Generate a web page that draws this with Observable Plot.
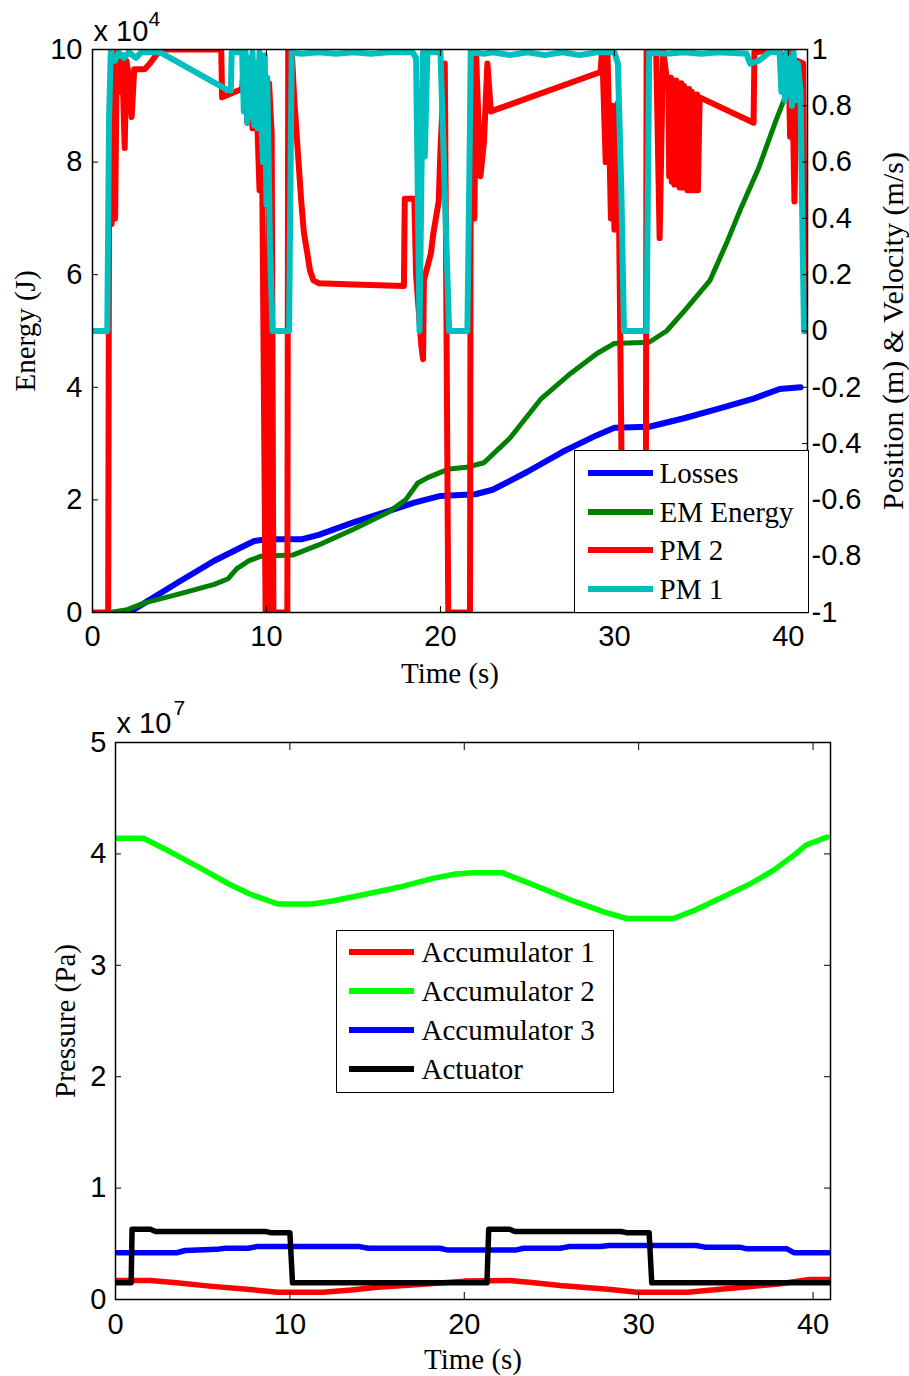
<!DOCTYPE html>
<html>
<head>
<meta charset="utf-8">
<script src="https://cdn.jsdelivr.net/npm/d3@7"></script>
<script src="https://cdn.jsdelivr.net/npm/@observablehq/plot@0.6"></script>
<style>
  html, body { margin: 0; padding: 0; background: #fff; }
  #wrap { position: relative; width: 909px; height: 1376px; background: #fff; overflow: hidden; }
  #wrap svg { position: absolute; left: 0; }
</style>
</head>
<body>
<div id="wrap"></div>
<script>
// ================= TOP CHART DATA =================
const timeTicks = [0, 10, 20, 30, 40];
const energyTicks = [0, 2, 4, 6, 8, 10];            // x 10^4 J
const positionTicks = [-1, -0.8, -0.6, -0.4, -0.2, 0, 0.2, 0.4, 0.6, 0.8, 1];
const topLegendLabels = ["Losses", "EM Energy", "PM 2", "PM 1"];
const topLegendColors = ["#0000ff", "#008000", "#ff0000", "#00bfbf"];

// [time (s), energy (x10^4 J)]
const losses = [[1.5,0],[2.2,0.02],[3,0.17],[5,0.55],[7,0.92],[8.5,1.15],[9.3,1.27],[10,1.3],[12,1.3],[13,1.38],[15,1.6],[17,1.8],[18.5,1.95],[20,2.07],[22,2.1],[23,2.18],[25,2.5],[27,2.85],[29,3.15],[30,3.28],[32,3.3],[34,3.45],[36,3.62],[38,3.8],[39.5,3.97],[40.7,4.0]];
const emEnergy = [[1,0],[2,0.05],[3,0.17],[5,0.33],[7,0.5],[7.8,0.6],[8.3,0.78],[9,0.92],[9.7,1.0],[11.5,1.02],[13,1.2],[15,1.48],[17,1.78],[18,2.0],[18.7,2.3],[19.3,2.4],[20.5,2.55],[21.5,2.58],[22.5,2.66],[24,3.1],[25.8,3.8],[27.5,4.25],[29,4.6],[30,4.78],[32,4.8],[33,5.0],[34,5.35],[35.5,5.9],[36.5,6.6],[37.3,7.2],[38.3,7.9],[39.3,8.75],[40,9.3],[40.5,9.6]];

// [time (s), position/velocity (right axis)]
const pm2 = [[0,-1],[0.9,-1],[0.95,0.4],[1.05,0.62],[1.1,0.38],[1.2,0.95],[1.3,0.4],[1.4,1],[1.55,0.85],[1.7,0.98],[1.85,0.65],[1.95,0.96],[2.1,0.9],[2.25,0.76],[2.4,0.93],[3.0,0.93],[3.3,0.95],[3.9,1],[7.4,1],[7.45,0.83],[8.2,0.85],[8.6,0.86],[8.75,1],[8.9,0.74],[9.05,0.92],[9.2,0.72],[9.4,0.88],[9.6,0.5],[9.75,0.6],[9.95,-1],[10.1,-1],[10.15,0.88],[10.3,0.7],[10.4,-1],[11.2,-1],[11.25,1],[11.45,1],[11.6,0.82],[11.8,0.64],[12.0,0.46],[12.15,0.35],[12.35,0.275],[12.5,0.215],[12.7,0.18],[13,0.17],[15,0.165],[17.9,0.16],[17.95,0.47],[18.5,0.47],[18.6,0.2],[18.9,-0.05],[19.0,-0.1],[19.05,0.18],[19.45,0.275],[19.6,0.35],[19.9,0.46],[20.0,0.64],[20.2,0.9],[20.25,0.95],[20.3,0.5],[20.45,-1],[21.7,-1],[21.75,1],[21.95,0.4],[22.05,0.98],[22.3,0.55],[22.5,0.67],[22.7,0.95],[22.9,0.78],[29.2,0.92],[29.3,1],[29.5,0.6],[29.6,1],[29.8,0.4],[29.9,0.8],[30.0,0.36],[30.2,0.81],[30.5,-1],[31.8,-1],[31.85,1],[32.4,1],[32.6,0.33],[32.8,1],[33.0,0.9],[33.1,0.9],[33.15,0.55],[33.25,0.9],[33.3,0.53],[33.4,0.89],[33.45,0.52],[33.55,0.89],[33.6,0.52],[33.7,0.88],[33.75,0.51],[33.85,0.88],[33.9,0.51],[34.0,0.87],[34.05,0.51],[34.15,0.86],[34.2,0.5],[34.3,0.86],[34.35,0.5],[34.45,0.85],[34.5,0.5],[34.6,0.84],[34.65,0.5],[34.75,0.84],[34.8,0.5],[34.9,0.83],[38,0.74],[38.05,0.99],[39.5,1],[39.7,0.95],[40,1],[40.1,0.69],[40.2,0.98],[40.35,0.46],[40.5,0.96],[40.85,0.95],[40.95,0]];
const pm1 = [[0,0],[0.85,0],[0.95,0.75],[1.05,0.99],[1.3,0.96],[1.5,0.99],[1.8,0.97],[2.1,0.99],[2.5,0.97],[2.8,0.99],[3.9,0.99],[7.8,0.855],[7.95,0.855],[8.0,0.99],[8.6,0.99],[8.7,0.78],[8.8,0.99],[8.9,0.74],[9.0,0.97],[9.1,0.76],[9.2,0.99],[9.3,0.73],[9.4,0.95],[9.5,0.72],[9.6,0.99],[9.7,0.75],[9.8,0.6],[9.9,0.98],[10.0,0.45],[10.05,0.9],[10.2,0.3],[10.35,0],[11.3,0],[11.45,0.99],[12,0.985],[13,0.99],[14,0.985],[15,0.99],[16,0.985],[17,0.99],[18.4,0.99],[18.6,0.97],[18.8,0],[18.9,0.5],[19.0,0.99],[19.1,0.62],[19.25,0.99],[20.0,0.99],[20.2,0.6],[20.5,0],[21.55,0],[21.75,0.99],[22.5,0.985],[23,0.99],[24,0.98],[25,0.99],[26,0.98],[27,0.99],[28,0.98],[29,0.99],[30.0,0.99],[30.2,0.95],[30.4,0.5],[30.55,0],[31.85,0],[32.0,0.99],[33,0.985],[34,0.99],[35,0.985],[36,0.99],[37.6,0.985],[37.8,0.95],[38.3,0.96],[38.9,0.99],[39.5,0.99],[39.6,0.85],[39.7,0.97],[39.8,0.82],[39.9,0.99],[40.0,0.84],[40.1,0.97],[40.2,0.8],[40.3,0.99],[40.45,0.82],[40.55,0.95],[40.7,0.85],[40.8,0.4],[40.9,0]];

// ================= BOTTOM CHART DATA =================
const pressureTicks = [0, 1, 2, 3, 4, 5];          // x 10^7 Pa
const bottomLegendLabels = ["Accumulator 1", "Accumulator 2", "Accumulator 3", "Actuator"];
const bottomLegendColors = ["#ff0000", "#00ff00", "#0000ff", "#000000"];

// [time (s), pressure (x10^7 Pa)]
const acc1 = [[0.1,0.17],[2,0.17],[3.5,0.15],[5.4,0.12],[7.7,0.09],[9.3,0.065],[11.9,0.065],[13.5,0.085],[15,0.11],[17,0.13],[18.8,0.15],[20,0.165],[22.6,0.17],[24,0.15],[25.5,0.125],[28.4,0.09],[29.9,0.065],[32.8,0.065],[34.5,0.09],[36,0.11],[38,0.14],[39.8,0.18],[40.9,0.18]];
const acc2 = [[0.1,4.14],[1.6,4.14],[3,4.03],[4.9,3.87],[6.5,3.73],[7.7,3.64],[9.3,3.55],[11.3,3.55],[12.5,3.58],[14.4,3.64],[16.5,3.71],[18.2,3.78],[19.5,3.82],[20.5,3.83],[22.2,3.83],[24,3.72],[26.2,3.58],[28,3.48],[29.3,3.42],[32,3.42],[33.3,3.5],[34.8,3.61],[36.5,3.74],[37.7,3.85],[39,4.0],[39.6,4.08],[40.8,4.15]];
const acc3 = [[0.1,0.42],[3.5,0.42],[4,0.44],[5.8,0.45],[6.3,0.46],[7.6,0.46],[8.1,0.475],[14,0.475],[14.5,0.46],[18.6,0.46],[19,0.445],[23,0.445],[23.4,0.46],[25.5,0.46],[26,0.475],[27.8,0.475],[28.3,0.485],[33.3,0.485],[33.8,0.47],[35.8,0.47],[36.2,0.455],[38.5,0.455],[38.9,0.42],[40.9,0.42]];
const actuator = [[0.1,0.15],[0.9,0.15],[0.95,0.63],[2.0,0.63],[2.3,0.61],[8.6,0.61],[8.9,0.6],[10.0,0.6],[10.15,0.15],[21.3,0.15],[21.4,0.63],[22.6,0.63],[22.9,0.61],[29.0,0.61],[29.3,0.6],[30.6,0.6],[30.75,0.15],[40.9,0.15]];

// ================= RENDERING =================
const sans = '"Liberation Sans", Arial, Helvetica, sans-serif';
const serif = '"Liberation Serif", "Times New Roman", Times, serif';
const wrap = document.getElementById("wrap");

const posToEnergy = v => (v + 1) * 5;   // right axis [-1,1] -> left axis [0,10]
const rightTickPositions = positionTicks.map(posToEnergy);
const rightTickLabel = new Map(rightTickPositions.map((p, i) => [p, String(positionTicks[i])]));

const T = d => d[0], V = d => d[1];

const topPlot = Plot.plot({
  width: 909, height: 690,
  marginLeft: 92, marginRight: 102, marginTop: 49, marginBottom: 78,
  x: {domain: [0, 41.1], label: null},
  y: {domain: [0, 10], label: null},
  style: {fontFamily: sans, fontSize: "29px", color: "#000", background: "#fff", overflow: "visible"},
  marks: [
    Plot.line(losses, {x: T, y: V, stroke: topLegendColors[0], strokeWidth: 6, strokeLinejoin: "round", clip: true}),
    Plot.line(emEnergy, {x: T, y: V, stroke: topLegendColors[1], strokeWidth: 5, strokeLinejoin: "round", clip: true}),
    Plot.line(pm2, {x: T, y: d => posToEnergy(d[1]), stroke: topLegendColors[2], strokeWidth: 6, strokeLinejoin: "round", clip: true}),
    Plot.line(pm1, {x: T, y: d => posToEnergy(d[1]), stroke: topLegendColors[3], strokeWidth: 6, strokeLinejoin: "round", clip: true}),
    Plot.frame({stroke: "#000", strokeWidth: 1.5}),
    Plot.axisY(energyTicks, {anchor: "left", tickSize: -6, fill: "none", stroke: "#000", label: null}),
    Plot.axisY(energyTicks, {anchor: "left", tickSize: 0, tickPadding: 10, tickFormat: d => String(d), label: null}),
    Plot.axisY(rightTickPositions, {anchor: "right", tickSize: -6, fill: "none", stroke: "#000", label: null}),
    Plot.axisY(rightTickPositions, {anchor: "right", tickSize: 0, tickPadding: 4, tickFormat: d => rightTickLabel.get(d), label: null}),
    Plot.axisX(timeTicks, {anchor: "bottom", tickSize: -6, fill: "none", stroke: "#000", label: null}),
    Plot.axisX(timeTicks, {anchor: "top", tickSize: -6, fill: "none", stroke: "#000", label: null}),
    Plot.axisX(timeTicks, {anchor: "bottom", tickSize: 0, tickPadding: 13, tickFormat: d => String(d), label: null}),
    Plot.text(["Time (s)"], {text: d => d, frameAnchor: "bottom", dy: 61, textAnchor: "middle", lineAnchor: "middle", fontFamily: serif, fontSize: 29}),
    Plot.text(["Energy (J)"], {text: d => d, frameAnchor: "left", dx: -67, rotate: -90, textAnchor: "middle", lineAnchor: "middle", fontFamily: serif, fontSize: 29}),
    Plot.text(["Position (m) & Velocity (m/s)"], {text: d => d, frameAnchor: "right", dx: 86, rotate: -90, textAnchor: "middle", lineAnchor: "middle", fontFamily: serif, fontSize: 30}),
    Plot.text(["x 10"], {text: d => d, frameAnchor: "top-left", textAnchor: "start", lineAnchor: "bottom", dx: 1, dy: -9, fontSize: 29}),
    Plot.text(["4"], {text: d => d, frameAnchor: "top-left", textAnchor: "start", lineAnchor: "bottom", dx: 56, dy: -24, fontSize: 21})
  ]
});
topPlot.style.top = "0px";
wrap.append(topPlot);

const bottomPlot = Plot.plot({
  width: 909, height: 686,
  marginLeft: 115, marginRight: 79, marginTop: 52, marginBottom: 77,
  x: {domain: [0, 41], label: null},
  y: {domain: [0, 5], label: null},
  style: {fontFamily: sans, fontSize: "29px", color: "#000", background: "#fff", overflow: "visible"},
  marks: [
    Plot.line(acc1, {x: T, y: V, stroke: bottomLegendColors[0], strokeWidth: 5.5, strokeLinejoin: "round", clip: true}),
    Plot.line(acc2, {x: T, y: V, stroke: bottomLegendColors[1], strokeWidth: 5.5, strokeLinejoin: "round", clip: true}),
    Plot.line(acc3, {x: T, y: V, stroke: bottomLegendColors[2], strokeWidth: 5.5, strokeLinejoin: "round", clip: true}),
    Plot.line(actuator, {x: T, y: V, stroke: bottomLegendColors[3], strokeWidth: 5.5, strokeLinejoin: "round", clip: true}),
    Plot.frame({stroke: "#000", strokeWidth: 1.5}),
    Plot.axisY(pressureTicks, {anchor: "left", tickSize: -6, fill: "none", stroke: "#000", label: null}),
    Plot.axisY(pressureTicks, {anchor: "right", tickSize: -7, fill: "none", stroke: "#000", label: null}),
    Plot.axisY(pressureTicks, {anchor: "left", tickSize: 0, tickPadding: 9, tickFormat: d => String(d), label: null}),
    Plot.axisX(timeTicks, {anchor: "bottom", tickSize: -7, fill: "none", stroke: "#000", label: null}),
    Plot.axisX(timeTicks, {anchor: "top", tickSize: -7, fill: "none", stroke: "#000", label: null}),
    Plot.axisX(timeTicks, {anchor: "bottom", tickSize: 0, tickPadding: 14, tickFormat: d => String(d), label: null}),
    Plot.text(["Time (s)"], {text: d => d, frameAnchor: "bottom", dy: 60, textAnchor: "middle", lineAnchor: "middle", fontFamily: serif, fontSize: 29}),
    Plot.text(["Pressure (Pa)"], {text: d => d, frameAnchor: "left", dx: -50, rotate: -90, textAnchor: "middle", lineAnchor: "middle", fontFamily: serif, fontSize: 29}),
    Plot.text(["x 10"], {text: d => d, frameAnchor: "top-left", textAnchor: "start", lineAnchor: "bottom", dx: 1, dy: -10, fontSize: 29}),
    Plot.text(["7"], {text: d => d, frameAnchor: "top-left", textAnchor: "start", lineAnchor: "bottom", dx: 58, dy: -28, fontSize: 21})
  ]
});
bottomPlot.style.top = "690px";
wrap.append(bottomPlot);

// ---- legends (overlay boxes inside the axes) ----
function addLegend({left, top, width, height, labels, colors, rows, swatchLeft, swatchWidth, textLeft, lineWidth}) {
  const box = document.createElement("div");
  Object.assign(box.style, {
    position: "absolute", left: left + "px", top: top + "px", width: width + "px", height: height + "px",
    background: "#fff", border: "1.5px solid #000", boxSizing: "border-box"
  });
  labels.forEach((lab, i) => {
    const cy = rows[i];
    const sw = document.createElement("div");
    Object.assign(sw.style, {
      position: "absolute", left: swatchLeft + "px", top: (cy - lineWidth / 2) + "px",
      width: swatchWidth + "px", height: lineWidth + "px", background: colors[i]
    });
    const tx = document.createElement("div");
    Object.assign(tx.style, {
      position: "absolute", left: textLeft + "px", top: (cy - 20) + "px", height: "40px", lineHeight: "40px",
      fontFamily: serif, fontSize: "29px", whiteSpace: "nowrap", color: "#000"
    });
    tx.textContent = lab;
    box.append(sw, tx);
  });
  wrap.append(box);
}

addLegend({left: 574, top: 450, width: 235, height: 163, labels: topLegendLabels, colors: topLegendColors,
  rows: [22, 60.5, 99, 137.5], swatchLeft: 12.5, swatchWidth: 65, textLeft: 84.5, lineWidth: 6});
addLegend({left: 336, top: 930, width: 278, height: 163, labels: bottomLegendLabels, colors: bottomLegendColors,
  rows: [21, 60, 99, 137.5], swatchLeft: 11.5, swatchWidth: 65, textLeft: 84.5, lineWidth: 6});
</script>
</body>
</html>
